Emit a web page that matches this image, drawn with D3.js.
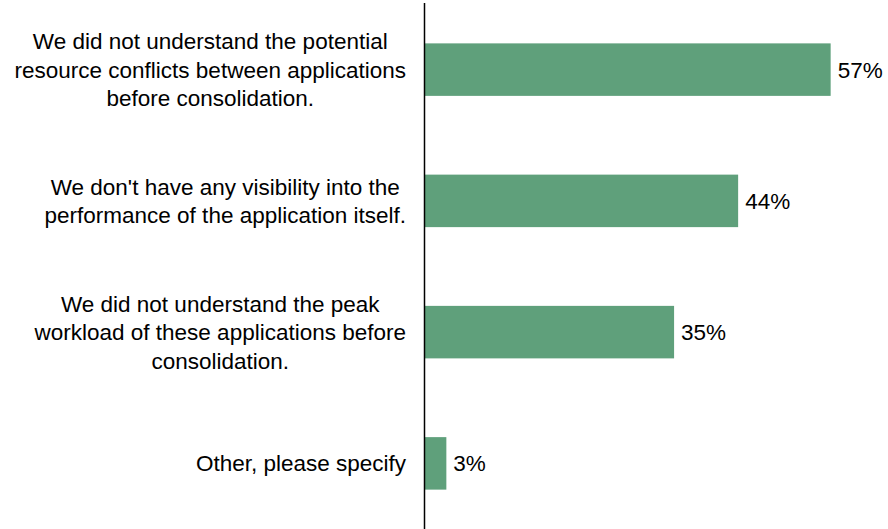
<!DOCTYPE html>
<html>
<head>
<meta charset="utf-8">
<script src="https://cdn.jsdelivr.net/npm/d3@7"></script>
<style>
  html, body { margin: 0; padding: 0; background: #fff; }
  svg { display: block; font-family: Arial, "Liberation Sans", sans-serif; }
</style>
</head>
<body>
<svg id="chart" width="888" height="529"></svg>
<script>
const categories = [
  ["We did not understand the potential", "resource conflicts between applications", "before consolidation."],
  ["We don't have any visibility into the", "performance of the application itself."],
  ["We did not understand the peak", "workload of these applications before", "consolidation."],
  ["Other, please specify"]
];
const values = [0.57, 0.44, 0.35, 0.03];
const valueLabels = ["57%", "44%", "35%", "3%"];

const svg = d3.select("#chart");
const W = 888, H = 529;
const x0 = 425;
const fs = 22.5;

const x = d3.scaleLinear().domain([0, 0.6]).range([x0, 852]);
const y = d3.scaleBand().domain(d3.range(categories.length)).range([4, 529])
  .paddingInner(0.6).paddingOuter(0.3);

// bars
svg.append("g").selectAll("rect").data(values).join("rect")
  .attr("x", x(0))
  .attr("y", (d, i) => y(i))
  .attr("width", d => x(d) - x(0))
  .attr("height", y.bandwidth())
  .attr("fill", "#5fa07b");

// axis line
svg.append("line")
  .attr("x1", x0 - 0.5).attr("x2", x0 - 0.5)
  .attr("y1", 3).attr("y2", H)
  .attr("stroke", "#000").attr("stroke-width", 1.5);

// value labels
svg.append("g").selectAll("text").data(values).join("text")
  .attr("x", d => x(d) + 7)
  .attr("y", (d, i) => y(i) + y.bandwidth() / 2)
  .attr("dy", "0.35em")
  .attr("font-size", fs)
  .attr("fill", "#000")
  .text((d, i) => valueLabels[i]);

// category labels: block right-aligned, lines centered within block
const lh = 28.5;
const rightEdge = 406;
const labG = svg.append("g");
categories.forEach((lines, i) => {
  const cy = y(i) + y.bandwidth() / 2;
  const g = labG.append("g");
  const texts = lines.map((ln, j) => g.append("text")
    .attr("font-size", fs)
    .attr("fill", "#000")
    .attr("text-anchor", "middle")
    .attr("y", cy + (j - (lines.length - 1) / 2) * lh)
    .attr("dy", "0.35em")
    .text(ln));
  const maxW = d3.max(texts, t => t.node().getComputedTextLength());
  texts.forEach(t => t.attr("x", rightEdge - maxW / 2));
});
</script>
</body>
</html>
